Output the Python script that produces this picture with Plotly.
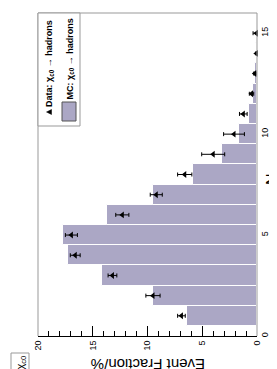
import plotly.graph_objects as go

# Data
n_sh = [1, 2, 3, 4, 5, 6, 7, 8, 9, 10, 11, 12, 13, 14, 15]
mc_frac = [6.4, 9.5, 14.2, 17.3, 17.7, 13.7, 9.5, 5.8, 3.2, 1.6, 0.75, 0.35, 0.15, 0.06, 0.03]
data_frac = [6.9, 9.5, 13.2, 16.6, 16.95, 12.3, 9.2, 6.6, 4.0, 2.1, 1.25, 0.5, 0.2, 0.06, 0.06]
data_err = [0.35, 0.65, 0.4, 0.45, 0.55, 0.6, 0.55, 0.65, 1.05, 0.95, 0.35, 0.2, 0.1, 0.05, 0.3]
frac_ticks = [0, 5, 10, 15, 20]
nsh_ticks = [0, 5, 10, 15]

BAR = "#aba7c5"
FONT = "Liberation Sans"
W, H = 277, 369
L, R, T, B = 30, 28, 5, 41
PW, PH = W - L - R, H - T - B


def px(x):
    return (x - L) / PW


def py(y):
    return (H - B - y) / PH


fig = go.Figure()
fig.add_trace(go.Bar(
    y=n_sh, x=mc_frac, orientation="h", width=1.0,
    marker=dict(color=BAR, line=dict(color="white", width=1)),
    showlegend=False, hoverinfo="skip"))
fig.add_trace(go.Scatter(
    y=n_sh, x=data_frac, mode="markers",
    marker=dict(symbol="triangle-left", size=6, color="black"),
    error_x=dict(type="data", array=data_err, color="black", thickness=1, width=2),
    showlegend=False, cliponaxis=False))

fig.update_layout(
    width=W, height=H, margin=dict(l=L, r=R, t=T, b=B),
    paper_bgcolor="white", plot_bgcolor="white",
    font=dict(family=FONT, color="black"),
    bargap=0,
    xaxis=dict(range=[20, 0], tickvals=frac_ticks, ticks="inside", ticklen=10,
               tickcolor="black", showline=True, linecolor="black", linewidth=1,
               tickangle=-90, tickfont=dict(size=9), showgrid=False, zeroline=False,
               minor=dict(dtick=1, tick0=0, ticks="inside", ticklen=5, tickcolor="black")),
    yaxis=dict(side="right", range=[0, 16], tickvals=nsh_ticks, ticks="",
               showline=False, tickangle=-90, tickfont=dict(size=9),
               showgrid=False, zeroline=False, ticklabelstandoff=1),
)

gray = dict(color="#999999", width=1)
# frame (top, left, right)
fig.add_shape(type="line", xref="paper", yref="paper", x0=0, x1=1, y0=1, y1=1, line=gray)
fig.add_shape(type="line", xref="paper", yref="paper", x0=0, x1=0, y0=0, y1=1, line=gray)
fig.add_shape(type="line", xref="paper", yref="paper", x0=1, x1=1, y0=0, y1=1, line=gray)

# legend box
fig.add_shape(type="rect", xref="paper", yref="paper", x0=px(30), x1=px(72), y0=py(118), y1=py(5),
              line=gray, fillcolor="white", layer="above")
fig.add_shape(type="path", xref="paper", yref="paper",
              path=f"M {px(38.5)},{py(104)} L {px(43.5)},{py(101.5)} L {px(43.5)},{py(106.5)} Z",
              fillcolor="black", line=dict(color="black", width=0.5), layer="above")
fig.add_shape(type="rect", xref="paper", yref="paper", x0=px(54), x1=px(68), y0=py(113), y1=py(94),
              fillcolor=BAR, line=dict(color="#555555", width=1), layer="above")
fig.add_annotation(xref="paper", yref="paper", x=px(41), y=py(56), textangle=-90,
                   text="<b>Data: χ<sub>c0</sub> → hadrons</b>", showarrow=False,
                   font=dict(size=9, family=FONT), xanchor="center", yanchor="middle")
fig.add_annotation(xref="paper", yref="paper", x=px(62), y=py(51.5), textangle=-90,
                   text="<b>MC: χ<sub>c0</sub> → hadrons</b>", showarrow=False,
                   font=dict(size=9, family=FONT), xanchor="center", yanchor="middle")

# chi_c0 label box
fig.add_shape(type="rect", xref="paper", yref="paper", x0=px(3), x1=px(21), y0=py(364), y1=py(345),
              line=gray, fillcolor="white")
fig.add_annotation(xref="paper", yref="paper", x=px(12), y=py(354.5), textangle=-90,
                   text="χ<sub>c0</sub>", showarrow=False, font=dict(size=11, family=FONT),
                   xanchor="center", yanchor="middle")

# axis titles
fig.add_annotation(xref="paper", yref="paper", x=px(140), y=py(357), textangle=180,
                   text="Event Fraction/%", showarrow=False, font=dict(size=15, family=FONT),
                   xanchor="center", yanchor="middle")
fig.add_annotation(xref="paper", yref="paper", x=px(265), y=py(166), textangle=-90,
                   text="N<sub>sh</sub>", showarrow=False, font=dict(size=16, family=FONT),
                   xanchor="center", yanchor="middle")

fig.write_html("out.html")
